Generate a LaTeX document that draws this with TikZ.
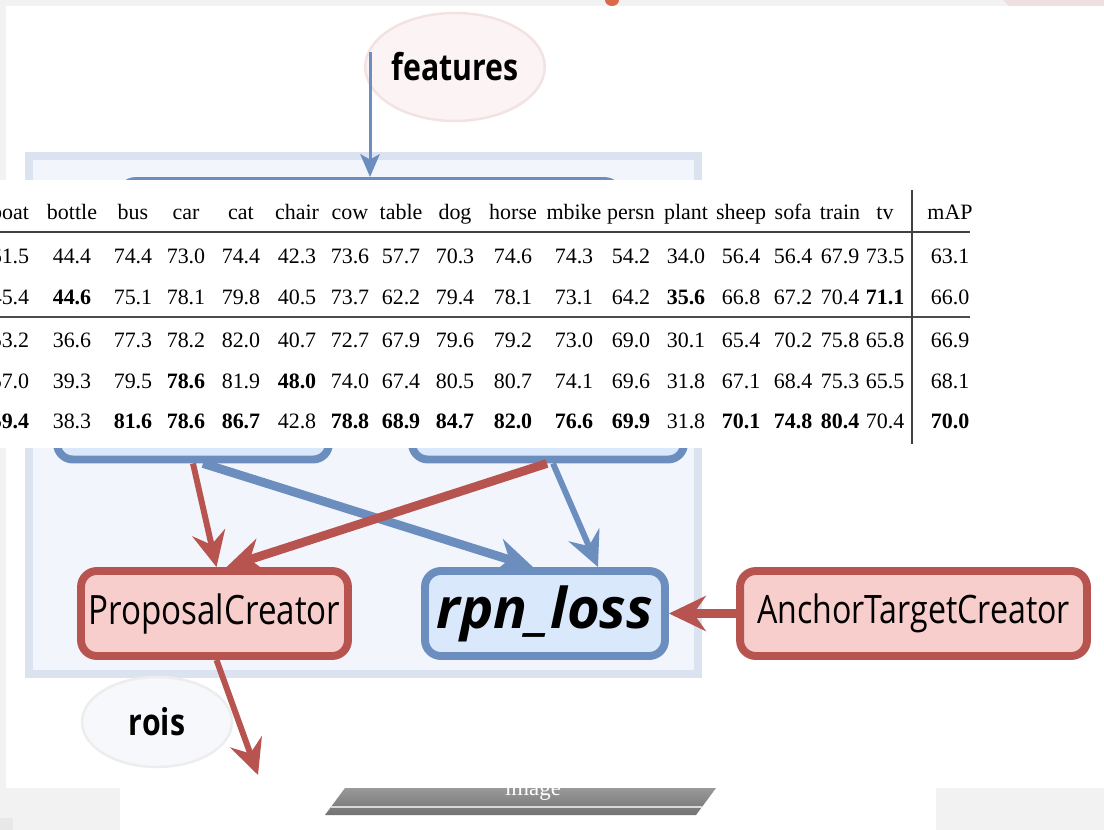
\documentclass[tikz,border=0pt]{standalone}
\usepackage{fontspec}
\setmainfont{Liberation Serif}
\newfontfamily\diagfont[FakeStretch=0.82]{Open Sans}
\newfontfamily\lossfont{Open Sans}
\usetikzlibrary{arrows.meta, positioning, calc, shapes.geometric}
\definecolor{boxblue}{HTML}{6C8EBF}
\definecolor{fillblue}{HTML}{DAE8FC}
\definecolor{boxred}{HTML}{B85450}
\definecolor{fillred}{HTML}{F8CECC}
\definecolor{panelfill}{HTML}{F2F6FC}
\definecolor{panelline}{HTML}{DAE3EF}
\definecolor{bggray}{HTML}{F2F2F2}
\definecolor{pinkbubble}{HTML}{FCF4F4}
\definecolor{pinkline}{HTML}{F3E2E2}
\definecolor{graybubble}{HTML}{F7F8FB}
\definecolor{pinkcorner}{HTML}{EFDFDF}
\definecolor{orangedot}{HTML}{D9694A}

\begin{document}
\begin{tikzpicture}[x={(0.02cm,0)}, y={(0,-0.02cm)},
    bluebox/.style={draw=boxblue, fill=fillblue, line width=4.5pt, rounded corners=9pt, inner sep=0pt},
    redbox/.style={draw=boxred, fill=fillred, line width=4.5pt, rounded corners=9pt, inner sep=0pt},
    bubble/.style={ellipse, inner sep=0pt, line width=1.4pt, font=\diagfont\bfseries\fontsize{21}{24}\selectfont},
    thinflow/.style={line width=3.4pt, -{Stealth[length=20pt, width=19pt, inset=7pt]}},
    thickflow/.style={line width=5pt, -{Stealth[length=21pt, width=20pt, inset=7pt]}},
    cell/.style={anchor=base, inner sep=0pt, font=\fontsize{12.5}{14}\selectfont}]
    \useasboundingbox (0,0) rectangle (1104,830);
    \clip (0,0) rectangle (1104,830);
    % Nền xám của ảnh chụp màn hình
    \fill[bggray] (0,0) rectangle (1104,830);
    \fill[white] (6,6) rectangle (1104,788);
    \fill[white] (120,788) rectangle (936,830);
    \fill[black!9] (0,818) rectangle (13,830);
    \fill[pinkcorner] (1003,0) -- (1104,0) -- (1104,6) -- (1009,6) -- cycle;
    \fill[orangedot] (612,0) ellipse (7 and 6);

    % Khung RPN
    \filldraw[fill=panelfill, draw=panelline, line width=4.5pt] (29,156) rectangle (698,674);

    % Các khối
    \node[bluebox, minimum width=10cm, minimum height=2cm] (conv) at (370,231) {};
    \node[bluebox, minimum width=5.44cm, minimum height=1.34cm] (lbox) at (193,426) {};
    \node[bluebox, minimum width=5.44cm, minimum height=1.34cm] (rbox) at (548,426) {};
    \node[redbox, minimum width=5.34cm, minimum height=1.7cm,
        font=\diagfont\fontsize{23}{27}\selectfont] (prop) at (214.5,613.5) {ProposalCreator};
    \node[bluebox, minimum width=4.8cm, minimum height=1.7cm,
        font=\lossfont\bfseries\itshape\fontsize{32}{36}\selectfont] (loss) at (545,613.5) {rpn\_loss};
    \node[redbox, minimum width=6.94cm, minimum height=1.7cm,
        font=\diagfont\fontsize{22.3}{27}\selectfont] (anchor) at (913.5,613.5) {AnchorTargetCreator};

    % Bong bóng dữ liệu
    \node[bubble, draw=pinkline, fill=pinkbubble, minimum width=3.32cm, minimum height=2.16cm] (feat) at (455,67) {features};
    \node[bubble, draw=black!7, fill=graybubble, minimum width=3cm, minimum height=1.8cm] (rois) at (157,722) {rois};
    \coordinate (featout) at (370,52);
    \coordinate (roisout) at (258,775);

    % Mũi tên
    \draw[boxblue, line width=1.7pt, -{Stealth[length=13pt, width=11pt, inset=3pt]}] (featout) -- (conv.north);
    \draw[boxred, thinflow] (lbox.south) -- ($(prop.north)+(2,0)$);
    \draw[boxblue, thickflow] ($(lbox.south)+(10,0)$) -- ($(loss.north)+(-12,0)$);
    \draw[boxred, thickflow] ($(rbox.south)+(-1,0)$) -- ($(prop.north)+(12,0)$);
    \draw[boxblue, thinflow] ($(rbox.south)+(5,0)$) -- ($(loss.north)+(53,0)$);
    \draw[boxred, thickflow] (anchor.west) -- (loss.east);
    \draw[boxred, thinflow] ($(prop.south)+(2,0)$) -- (roisout);

    % Bảng kết quả dán đè lên
    \fill[white] (0,180) rectangle (1104,448);
    \def\colx{{10,72,133,186,241,297,350,401,455,513,574,631,686,741,793,840,885,950}}
    \foreach \t [count=\i] in {boat,bottle,bus,car,cat,chair,cow,table,dog,horse,mbike,persn,plant,sheep,sofa,train,tv,mAP}
        {\pgfmathsetmacro\cx{\colx[\i-1]} \node[cell] (hd\i) at (\cx,220) {\t};}
    \foreach \v [count=\i] in {61.5,44.4,74.4,73.0,74.4,42.3,73.6,57.7,70.3,74.6,74.3,54.2,34.0,56.4,56.4,67.9,73.5,63.1}
        {\pgfmathsetmacro\cx{\colx[\i-1]} \node[cell] (ra\i) at (\cx,264) {\v};}
    \foreach \v [count=\i] in {45.4,\textbf{44.6},75.1,78.1,79.8,40.5,73.7,62.2,79.4,78.1,73.1,64.2,\textbf{35.6},66.8,67.2,70.4,\textbf{71.1},66.0}
        {\pgfmathsetmacro\cx{\colx[\i-1]} \node[cell] (rb\i) at (\cx,305) {\v};}
    \foreach \v [count=\i] in {53.2,36.6,77.3,78.2,82.0,40.7,72.7,67.9,79.6,79.2,73.0,69.0,30.1,65.4,70.2,75.8,65.8,66.9}
        {\pgfmathsetmacro\cx{\colx[\i-1]} \node[cell] (rc\i) at (\cx,348) {\v};}
    \foreach \v [count=\i] in {57.0,39.3,79.5,\textbf{78.6},81.9,\textbf{48.0},74.0,67.4,80.5,80.7,74.1,69.6,31.8,67.1,68.4,75.3,65.5,68.1}
        {\pgfmathsetmacro\cx{\colx[\i-1]} \node[cell] (rd\i) at (\cx,389) {\v};}
    \foreach \v [count=\i] in {\textbf{59.4},38.3,\textbf{81.6},\textbf{78.6},\textbf{86.7},42.8,\textbf{78.8},\textbf{68.9},\textbf{84.7},\textbf{82.0},\textbf{76.6},\textbf{69.9},31.8,\textbf{70.1},\textbf{74.8},\textbf{80.4},70.4,\textbf{70.0}}
        {\pgfmathsetmacro\cx{\colx[\i-1]} \node[cell] (re\i) at (\cx,429) {\v};}
    \draw[black!75, line width=0.9pt] (0,232) -- (970,232);
    \draw[black!70, line width=1.3pt] (0,317) -- (970,317);
    \draw[black!75, line width=0.9pt] (912,190) -- (912,444);

    % Dải ảnh phía dưới
    \shade[top color=black!40, bottom color=black!55] (345,788) -- (716,788) -- (696,815) -- (325,815) -- cycle;
    \draw[white!85!black, line width=1.5pt] (331,807) -- (702,807);
    \begin{scope}
        \clip (345,788) -- (716,788) -- (696,815) -- (325,815) -- cycle;
        \node[white, font=\fontsize{13}{15}\selectfont] (imglabel) at (533,790) {image};
    \end{scope}
\end{tikzpicture}
\end{document}
